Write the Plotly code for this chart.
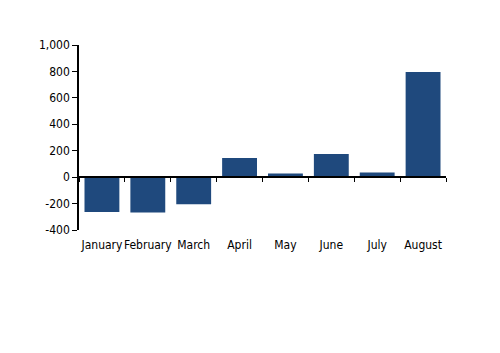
import plotly.graph_objects as go

months = ["January", "February", "March", "April", "May", "June", "July", "August"]
values = [-263, -268, -205, 145, 28, 175, 35, 795]
ytick_vals = [-400, -200, 0, 200, 400, 600, 800, 1000]
ytick_text = ["-400", "-200", "0", "200", "400", "600", "800", "1,000"]

ymin, ymax = -400, 1000
fig = go.Figure()
fig.add_trace(go.Bar(x=months, y=values, marker=dict(color="#1f497d", line=dict(width=0)),
                     width=0.76, xaxis="x", yaxis="y"))
# invisible trace for zero-line axis
fig.add_trace(go.Scatter(x=months, y=[0]*len(months), mode="markers", marker=dict(opacity=0),
                         xaxis="x2", yaxis="y", hoverinfo="skip", showlegend=False))

font = dict(family="DejaVu Sans Condensed, DejaVu Sans", size=12, color="#000000")
fig.update_layout(
    width=500, height=353,
    margin=dict(l=79, r=54, t=45, b=123),
    plot_bgcolor="white", paper_bgcolor="white",
    showlegend=False,
    font=font,
    xaxis=dict(type="category", range=[-0.5, 7.5], showline=False, ticks="",
               tickangle=0, showgrid=False, zeroline=False, tickfont=font,
               ticklabelstandoff=6),
    xaxis2=dict(type="category", range=[-0.5, 7.5], overlaying="x", anchor="free",
                position=(0 - ymin) / (ymax - ymin), side="bottom",
                showline=True, linecolor="black", linewidth=1.5,
                ticks="outside", tickson="boundaries", ticklen=4, tickcolor="black",
                showticklabels=False, showgrid=False, zeroline=False),
    yaxis=dict(range=[ymin, ymax], tickvals=ytick_vals, ticktext=ytick_text,
               showline=True, linecolor="black", linewidth=1.5,
               ticks="outside", ticklen=5, tickcolor="black",
               showgrid=False, zeroline=False, tickfont=font),
)
fig.write_html("out.html")
